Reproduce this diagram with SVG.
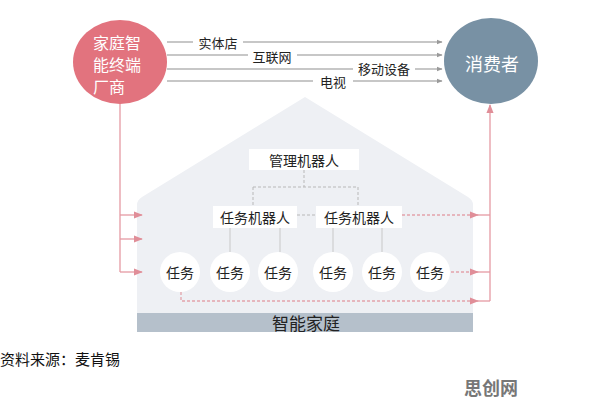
<svg xmlns="http://www.w3.org/2000/svg" width="596" height="406" viewBox="0 0 596 406">
<defs>
<marker id="ag" viewBox="0 0 10 10" refX="9" refY="5" markerWidth="6" markerHeight="6" orient="auto" markerUnits="userSpaceOnUse"><path d="M0,1 L10,5 L0,9 z" fill="#9a9a9a"/></marker>
<marker id="ap" viewBox="0 0 10 10" refX="9" refY="5" markerWidth="9" markerHeight="9" orient="auto" markerUnits="userSpaceOnUse"><path d="M0,1 L10,5 L0,9 z" fill="#e08e98"/></marker>
<style>
text{font-family:"Noto Sans CJK SC","Liberation Sans",sans-serif;}
.lbl{font-size:13px;fill:#222;text-anchor:middle;dominant-baseline:central;}
.g{stroke:#b5b5b5;stroke-width:1.3;fill:none;}
.p{stroke:#e59aa3;stroke-width:1.3;fill:none;}
.pd{stroke:#e3a3aa;stroke-width:1.3;fill:none;stroke-dasharray:3 2;}
.gd{stroke:#b8b8b8;stroke-width:1;fill:none;stroke-dasharray:3 2;}
.sl{stroke:#c8c8c8;stroke-width:1;fill:none;}
.box{fill:#ffffff;}
.task{fill:#ffffff;}
.t14{font-size:14px;fill:#222;text-anchor:middle;dominant-baseline:central;}
.mk{font-size:16px;fill:#fff;dominant-baseline:central;}
</style>
</defs>
<rect width="596" height="406" fill="#ffffff"/>

<g id="house">
<path d="M137,205 Q137,200 142,197 L305,97 L468,197 Q473,200 473,205 L473,332 L137,332 z" fill="#eef0f4"/>
<rect x="137" y="313" width="336" height="19" fill="#b5c0cb"/>
<text x="306" y="322" font-size="17" fill="#222" text-anchor="middle" dominant-baseline="central">智能家庭</text>
</g>

<g id="connectors">
<line class="g" x1="167" y1="42" x2="442" y2="42" marker-end="url(#ag)"/>
<line class="g" x1="167" y1="55" x2="442" y2="55" marker-end="url(#ag)"/>
<line class="g" x1="167" y1="69" x2="442" y2="69" marker-end="url(#ag)"/>
<line class="g" x1="167" y1="81" x2="442" y2="81" marker-end="url(#ag)"/>
<rect x="193" y="34" width="50" height="16" fill="#fff"/>
<rect x="248" y="47" width="49" height="16" fill="#fff"/>
<rect x="353" y="61" width="62" height="16" fill="#fff"/>
<rect x="313" y="73" width="40" height="16" fill="#fff"/>
<text class="lbl" x="218" y="42">实体店</text>
<text class="lbl" x="272" y="56">互联网</text>
<text class="lbl" x="384" y="68">移动设备</text>
<text class="lbl" x="333" y="81">电视</text>

<path class="p" d="M120,103 L120,272"/>
<line class="p" x1="120" y1="215" x2="142" y2="215" marker-end="url(#ap)"/>
<line class="p" x1="120" y1="239" x2="142" y2="239" marker-end="url(#ap)"/>
<line class="p" x1="120" y1="272" x2="142" y2="272" marker-end="url(#ap)"/>

<line class="p" x1="490" y1="301" x2="490" y2="105" marker-end="url(#ap)"/>
<line class="p" x1="478" y1="215" x2="490" y2="215"/>
<line class="p" x1="478" y1="272" x2="490" y2="272"/>
<line class="p" x1="478" y1="301" x2="490" y2="301"/>
<line class="pd" x1="402" y1="215" x2="478" y2="215" marker-end="url(#ap)"/>
<line class="pd" x1="451" y1="272" x2="478" y2="272" marker-end="url(#ap)"/>
<path class="pd" d="M181,292 L181,301 L478,301" marker-end="url(#ap)"/>
<line class="gd" x1="297" y1="215" x2="316" y2="215"/>

<path class="gd" d="M304,170 L304,187 M253,187 L358,187 M253,187 L253,206 M358,187 L358,206"/>
<path class="sl" d="M230,228 L230,252 M280,228 L280,252 M333,228 L333,252 M382,228 L382,252"/>
</g>

<g id="maker">
<ellipse cx="120" cy="62" rx="47" ry="42" fill="#e2737e"/>
<text class="mk" x="93" y="42">家庭智</text>
<text class="mk" x="93" y="64">能终端</text>
<text class="mk" x="93" y="86">厂商</text>
</g>

<g id="consumer">
<ellipse cx="491" cy="61" rx="47" ry="43" fill="#7891a4"/>
<text x="492" y="63" font-size="18" fill="#fff" text-anchor="middle" dominant-baseline="central">消费者</text>
</g>

<g id="manager">
<rect class="box" x="249" y="149" width="110" height="21"/>
<text class="t14" x="304" y="160">管理机器人</text>
</g>
<g id="taskbot1">
<rect class="box" x="213" y="206" width="84" height="22"/>
<text class="t14" x="255" y="217">任务机器人</text>
</g>
<g id="taskbot2">
<rect class="box" x="316" y="206" width="86" height="22"/>
<text class="t14" x="359" y="217">任务机器人</text>
</g>

<g id="task1"><circle class="task" cx="180" cy="272" r="20"/><text class="t14" x="180" y="272">任务</text></g>
<g id="task2"><circle class="task" cx="230" cy="272" r="20"/><text class="t14" x="230" y="272">任务</text></g>
<g id="task3"><circle class="task" cx="278" cy="272" r="20"/><text class="t14" x="278" y="272">任务</text></g>
<g id="task4"><circle class="task" cx="333" cy="272" r="20"/><text class="t14" x="333" y="272">任务</text></g>
<g id="task5"><circle class="task" cx="382" cy="272" r="20"/><text class="t14" x="382" y="272">任务</text></g>
<g id="task6"><circle class="task" cx="430" cy="272" r="20"/><text class="t14" x="430" y="272">任务</text></g>

<text x="0" y="358" font-size="15" fill="#111" dominant-baseline="central">资料来源：麦肯锡</text>
<text x="491" y="387" font-size="18" font-weight="bold" fill="#777" text-anchor="middle" dominant-baseline="central">思创网</text>
</svg>
